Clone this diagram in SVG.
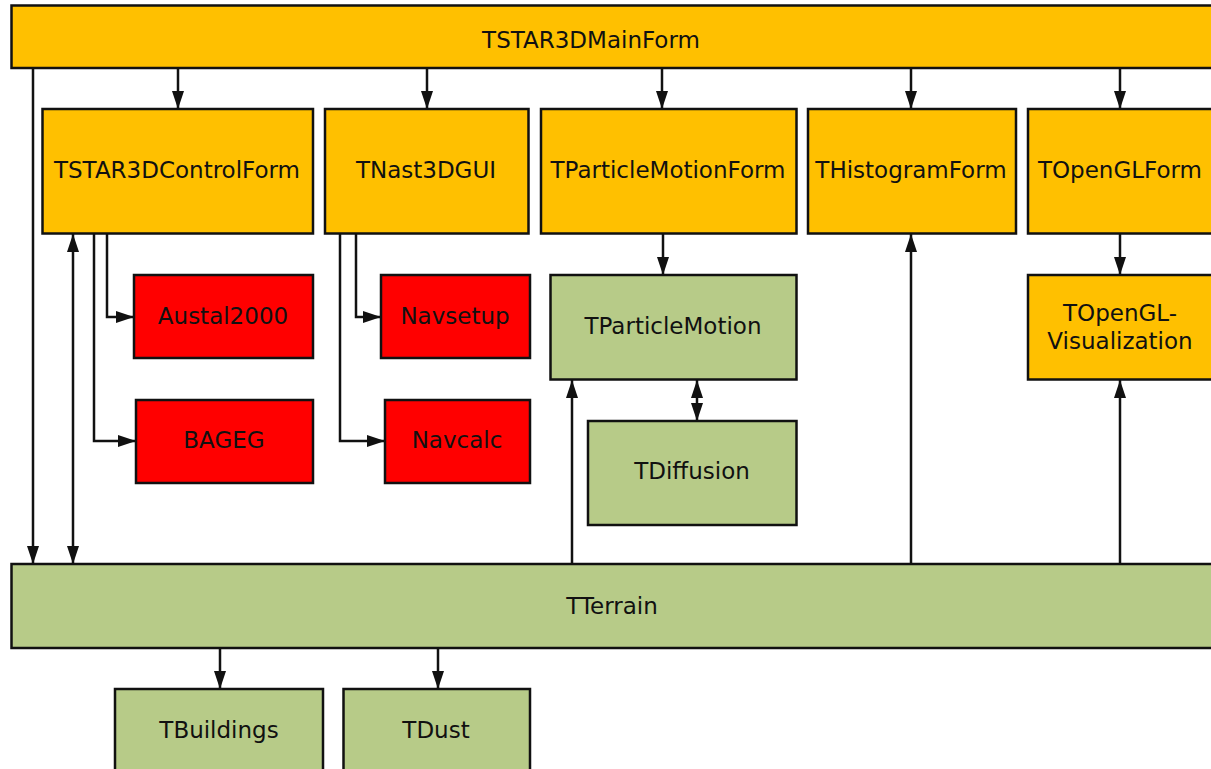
<svg xmlns="http://www.w3.org/2000/svg" width="1211" height="769" viewBox="0 0 1211 769">
<style>
.box{stroke:#111;stroke-width:2.5}
.o{fill:#FFC000}.r{fill:#FF0000}.g{fill:#B7CB88}
text{font-family:"DejaVu Sans",sans-serif;font-size:23px;fill:#111;text-anchor:middle}
.c line,.c polyline{stroke:#111;stroke-width:2.5;fill:none;marker-end:url(#ah)}
</style>
<defs>
<marker id="ah" markerUnits="userSpaceOnUse" markerWidth="18" markerHeight="12" refX="18" refY="6" orient="auto-start-reverse" viewBox="0 0 18 12">
<path d="M0,0 L18,6 L0,12 z" fill="#111"/>
</marker>
</defs>
<g class="c" id="connectors">
<line x1="178" y1="68" x2="178" y2="109"/>
<line x1="427" y1="68" x2="427" y2="109"/>
<line x1="662" y1="68" x2="662" y2="109"/>
<line x1="911" y1="68" x2="911" y2="109"/>
<line x1="1120" y1="68" x2="1120" y2="109"/>
<line x1="33" y1="68" x2="33" y2="564"/>
<line x1="73" y1="564" x2="73" y2="234" style="marker-start:url(#ah)"/>
<polyline points="107,234 107,317 134,317"/>
<polyline points="94,234 94,441 136,441"/>
<polyline points="356,234 356,317 381,317"/>
<polyline points="340,234 340,441 385,441"/>
<line x1="663" y1="234" x2="663" y2="275"/>
<line x1="697" y1="380" x2="697" y2="421" style="marker-start:url(#ah)"/>
<line x1="572" y1="564" x2="572" y2="380"/>
<line x1="911" y1="564" x2="911" y2="234"/>
<line x1="1120" y1="234" x2="1120" y2="275"/>
<line x1="1120" y1="564" x2="1120" y2="380"/>
<line x1="220" y1="648" x2="220" y2="689"/>
<line x1="438" y1="648" x2="438" y2="689"/>
</g>
<g id="TSTAR3DMainForm"><rect class="box o" x="11.5" y="5.5" width="1210" height="62.5"/><text x="591" y="48">TSTAR3DMainForm</text></g>
<g id="TSTAR3DControlForm"><rect class="box o" x="42.5" y="109" width="270.5" height="124.5"/><text x="177" y="178">TSTAR3DControlForm</text></g>
<g id="TNast3DGUI"><rect class="box o" x="325" y="109" width="203.5" height="124.5"/><text x="426" y="178">TNast3DGUI</text></g>
<g id="TParticleMotionForm"><rect class="box o" x="541" y="109" width="255.5" height="124.5"/><text x="668" y="178">TParticleMotionForm</text></g>
<g id="THistogramForm"><rect class="box o" x="808" y="109" width="208" height="124.5"/><text x="911" y="178">THistogramForm</text></g>
<g id="TOpenGLForm"><rect class="box o" x="1028" y="109" width="190" height="124.5"/><text x="1120" y="178">TOpenGLForm</text></g>
<g id="Austal2000"><rect class="box r" x="134" y="275" width="179" height="83"/><text x="223" y="324">Austal2000</text></g>
<g id="BAGEG"><rect class="box r" x="136" y="400" width="177" height="83"/><text x="224" y="448">BAGEG</text></g>
<g id="Navsetup"><rect class="box r" x="381" y="275" width="149" height="83"/><text x="455" y="324">Navsetup</text></g>
<g id="Navcalc"><rect class="box r" x="385" y="400" width="145" height="83"/><text x="457" y="448">Navcalc</text></g>
<g id="TParticleMotion"><rect class="box g" x="550.5" y="275" width="246" height="104.5"/><text x="673" y="334">TParticleMotion</text></g>
<g id="TDiffusion"><rect class="box g" x="588" y="421" width="208.5" height="104"/><text x="692" y="479">TDiffusion</text></g>
<g id="TOpenGL-Visualization"><rect class="box o" x="1028" y="275" width="190" height="104.5"/><text x="1120" y="321">TOpenGL-</text><text x="1120" y="349">Visualization</text></g>
<g id="TTerrain"><rect class="box g" x="11.5" y="564" width="1210" height="84"/><text x="612" y="614">TTerrain</text></g>
<g id="TBuildings"><rect class="box g" x="115" y="689" width="208" height="90"/><text x="219" y="738">TBuildings</text></g>
<g id="TDust"><rect class="box g" x="343.5" y="689" width="186.5" height="90"/><text x="436" y="738">TDust</text></g>
</svg>
